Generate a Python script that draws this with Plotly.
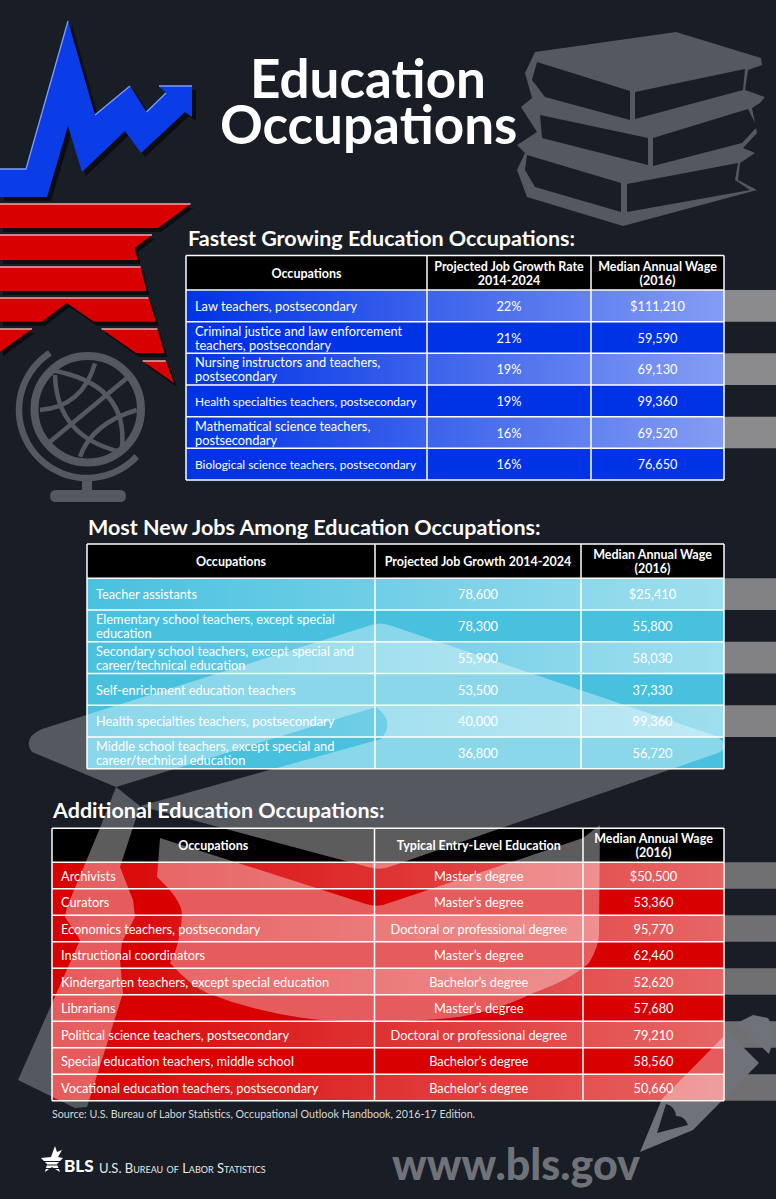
import base64, math
import plotly.graph_objects as go

W, H = 776, 1199
BG = "#191d25"
GRAY = "#54585f"
PENCIL = "#6f7379"
FONT = "Lato"

# ---------- data ----------
t1_head = ["Occupations", "Projected Job Growth Rate<br>2014-2024", "Median Annual Wage<br>(2016)"]
t1_occ = ["Law teachers, postsecondary",
          "Criminal justice and law enforcement<br>teachers, postsecondary",
          "Nursing instructors and teachers,<br>postsecondary",
          "Health specialties teachers, postsecondary",
          "Mathematical science teachers,<br>postsecondary",
          "Biological science teachers, postsecondary"]
t1_growth = ["22%", "21%", "19%", "19%", "16%", "16%"]
t1_wage = ["$111,210", "59,590", "69,130", "99,360", "69,520", "76,650"]

t2_head = ["Occupations", "Projected Job Growth 2014-2024", "Median Annual Wage<br>(2016)"]
t2_occ = ["Teacher assistants",
          "Elementary school teachers, except special<br>education",
          "Secondary school teachers, except special and<br>career/technical education",
          "Self-enrichment education teachers",
          "Health specialties teachers, postsecondary",
          "Middle school teachers, except special and<br>career/technical education"]
t2_growth = ["78,600", "78,300", "55,900", "53,500", "40,000", "36,800"]
t2_wage = ["$25,410", "55,800", "58,030", "37,330", "99,360", "56,720"]

t3_head = ["Occupations", "Typical Entry-Level Education", "Median Annual Wage<br>(2016)"]
t3_occ = ["Archivists", "Curators", "Economics teachers, postsecondary", "Instructional coordinators",
          "Kindergarten teachers, except special education", "Librarians",
          "Political science teachers, postsecondary", "Special education teachers, middle school",
          "Vocational education teachers, postsecondary"]
t3_edu = ["Master’s degree", "Master’s degree", "Doctoral or professional degree", "Master’s degree",
          "Bachelor’s degree", "Master’s degree", "Doctoral or professional degree",
          "Bachelor’s degree", "Bachelor’s degree"]
t3_wage = ["$50,500", "53,360", "95,770", "62,460", "52,620", "57,680", "79,210", "58,560", "50,660"]

# ---------- geometry of the page ----------
TABLES = [
    dict(x=[186, 427, 591, 724], top=255.5, head=34.5, row=31.67, fill="#0033e6", alpha=0.52,
         head_txt=t1_head, cols=[t1_occ, t1_growth, t1_wage], tight=(3, 5)),
    dict(x=[87, 375, 581, 724], top=544, head=34.3, row=31.75, fill="#48c1df", alpha=0.48,
         head_txt=t2_head, cols=[t2_occ, t2_growth, t2_wage], tight=()),
    dict(x=[52, 374.5, 583, 724], top=828.3, head=34, row=26.5, fill="#d80000", alpha=0.40,
         head_txt=t3_head, cols=[t3_occ, t3_edu, t3_wage], tight=()),
]


def poly(pts):
    return "M" + " L".join(f"{x} {y}" for x, y in pts) + " Z"


def arc(cx, cy, r, a0, a1, n=48):
    return [(cx + r * math.cos(math.radians(a0 + (a1 - a0) * i / n)),
             cy + r * math.sin(math.radians(a0 + (a1 - a0) * i / n))) for i in range(n + 1)]


def openpath(pts):
    return "M" + " L".join(f"{x:.1f} {y:.1f}" for x, y in pts)


# decorative outlines
CAP_TOP = ("M32 752 Q22 738 42 729 L368 626 Q379 621 392 626 L716 736 Q732 746 718 753 L392 866 "
           "Q380 871 368 867 L140 806 L381 739 Q396 722 376 707 L116 787 Z")
CAP_TASSEL = poly([(116, 787), (100, 828), (67, 907), (65, 917), (80, 940), (18, 1080), (75, 1108), (87, 1107),
                   (123, 993), (120, 960), (122, 942), (135, 917), (133, 900), (120, 867), (140, 806)])
CAP_BODY = ("M160 838 L157 877 Q182 900 182 915 Q180 945 170 963 Q190 985 207 993 Q260 1014 320 1020 "
            "Q400 1024 459 1017 Q500 1010 533 993 Q570 980 589 963 Q600 945 599 930 L600 825 L583 838 "
            "L389 903 Q378 908 366 904 Z")
PENCIL_CAP = poly([(737, 1023), (753, 1015), (768, 1018), (776, 1032), (769, 1054)])
PENCIL_BODY = ("M728 1032 L759 1063 L693 1130 L640 1152 L662 1099 Z "
               "M666 1104 L657 1133 L688 1125 Q685 1116 676 1116 Q675 1106 666 1104 Z")

shapes = []


def add(path, color, **kw):
    shapes.append(dict(type="path", path=path, fillcolor=color, line=dict(width=0), xref="x", yref="y",
                       layer="below", **kw))


def stroke(path, color, width, layer="below"):
    shapes.append(dict(type="path", path=path, line=dict(color=color, width=width), xref="x", yref="y", layer=layer))


# books
BOOK = [(535, 52), (676, 32), (761, 58), (762, 65), (748, 70), (745, 90), (765, 97), (760, 103), (752, 108),
        (757, 133), (743, 148), (755, 153), (740, 163), (738, 180), (757, 190), (623, 226), (527, 197),
        (517, 170), (525, 153), (517, 145), (537, 132), (521, 107), (532, 98), (525, 73)]
BOOK_HOLES = [[(537, 62), (630, 91), (630, 120), (545, 97), (532, 80)],
              [(635, 92), (745, 69), (743, 90), (635, 119)],
              [(540, 115), (648, 138), (648, 165), (542, 138)],
              [(653, 138), (748, 109), (757, 127), (742, 143), (653, 166)],
              [(527, 155), (621, 183), (621, 212), (535, 187), (525, 170)],
              [(627, 184), (738, 163), (735, 180), (750, 190), (627, 212)]]
add(poly(BOOK), GRAY)
for h in BOOK_HOLES:
    add(poly(h), BG)

# globe
z = lambda x, y: (x / 3, 340 + y / 3)
shapes.append(dict(type="circle", x0=34.5, x1=141, y0=356, y1=462.5, line=dict(color=GRAY, width=8),
                   fillcolor="rgba(0,0,0,0)", xref="x", yref="y", layer="below"))
GLOBE_ARCS = [[(165, 105), (170, 290), (360, 335)], [(120, 210), (247, 200), (285, 70)],
              [(150, 305), (265, 210), (380, 115)], [(150, 90), (390, 130), (365, 330)],
              [(240, 350), (276, 250), (410, 210)]]
for a, b, c in GLOBE_ARCS:
    a, b, c = z(*a), z(*b), z(*c)
    stroke(f"M{a[0]} {a[1]} Q{b[0]} {b[1]} {c[0]} {c[1]}", GRAY, 4.5)
stroke(openpath(arc(87, 410, 68, 237, 43)), GRAY, 6.5)
shapes.append(dict(type="rect", x0=82, x1=92, y0=478, y1=495, fillcolor=GRAY, line=dict(width=0),
                   xref="x", yref="y", layer="below"))
add("M56 490 L120 490 Q126 490 126 496 Q126 502 120 502 L56 502 Q50 502 50 496 Q50 490 56 490 Z", GRAY)

# blue arrow
ARROW = [(0, 169), (26, 169), (68, 21), (95, 115), (130, 86), (146.5, 112), (166, 93), (159, 86), (192, 86),
         (192, 117), (185, 112), (141, 153), (125, 131), (82, 172), (68, 126), (47, 197), (0, 197)]
add(poly([(x + 4, y + 4) for x, y in ARROW]), "#0b0d11")
add(poly(ARROW), "#0a3ce8")
for seg in ([(0, 169), (26, 169), (68, 21)], [(95, 115), (130, 86)], [(146.5, 112), (166, 93)], [(159, 86), (192, 86)]):
    stroke(openpath(seg), "#7f9cff", 1.3)

# red star stripes
STRIPES = [[(0, 204), (190.6, 204), (158, 228), (0, 228)],
           [(0, 235), (152, 235), (134.7, 248), (137.6, 260), (0, 260)],
           [(0, 267), (140.6, 267), (146.5, 291), (0, 291)],
           [(0, 298), (148.5, 298), (156, 321.7), (94, 321.7), (66.8, 303), (42, 321.7), (0, 321.7)],
           [(101.5, 329), (157.4, 329), (164.4, 353), (136, 353)],
           [(0, 329), (32, 329), (0, 352)],
           [(142.6, 361), (165.8, 361), (174, 383)]]
for s in STRIPES:
    add(poly([(x + 3, y + 4) for x, y in s]), "#0b0d11")
for s in STRIPES:
    add(poly(s), "#d80000")
    top = [p for p in s if p[1] == s[0][1]]
    stroke(openpath([top[0], top[1]]), "#f0a8a8", 1.5)

# right-hand bands outside the tables
for t in TABLES:
    n = len(t["cols"][0])
    for i in range(0, n, 2):
        y0 = t["top"] + t["head"] + i * t["row"]
        c = round(25 + 230 * t["alpha"] * 0.95)
        shapes.append(dict(type="rect", x0=t["x"][3], x1=W, y0=y0, y1=y0 + t["row"],
                           fillcolor=f"rgb({c},{c},{c + 3})", line=dict(width=0), xref="x", yref="y", layer="below"))

# cap + pencil
for p in (CAP_TOP, CAP_TASSEL, CAP_BODY):
    add(p, GRAY)
add(PENCIL_CAP, PENCIL)
add(PENCIL_BODY, PENCIL)

# the cap and pencil glow through the two lower tables
for ax in ("2", "3"):
    for p in (CAP_TOP, CAP_TASSEL, CAP_BODY, PENCIL_CAP, PENCIL_BODY):
        shapes.append(dict(type="path", path=p, fillcolor="rgba(255,255,255,0.36)", line=dict(width=0),
                           xref="x" + ax, yref="y" + ax, layer="above"))


# gradient bands over the table rows
def grad_uri(alpha):
    svg = ("<svg xmlns='http://www.w3.org/2000/svg' width='100' height='10' preserveAspectRatio='none'>"
           "<defs><linearGradient id='g'>"
           "<stop offset='0' stop-color='white' stop-opacity='0'/>"
           f"<stop offset='1' stop-color='white' stop-opacity='{alpha}'/>"
           "</linearGradient></defs><rect width='100' height='10' fill='url(#g)'/></svg>")
    return "data:image/svg+xml;base64," + base64.b64encode(svg.encode()).decode()


images = []
for t in TABLES:
    n = len(t["cols"][0])
    left, right = t["x"][0], t["x"][3]
    for i in range(0, n, 2):
        y0 = t["top"] + t["head"] + i * t["row"]
        images.append(dict(source=grad_uri(t["alpha"]), xref="paper", yref="paper", x=left / W, y=1 - y0 / H,
                           sizex=(right - left) / W, sizey=t["row"] / H, xanchor="left", yanchor="top",
                           sizing="stretch", layer="above"))

fig = go.Figure()

# axes used for the page coordinate system and as clip regions
for ax, (x0, x1, y0, y1) in {"": (0, W, 0, H),
                             "2": (TABLES[1]["x"][0], TABLES[1]["x"][3], TABLES[1]["top"] + TABLES[1]["head"],
                                   TABLES[1]["top"] + TABLES[1]["head"] + 6 * TABLES[1]["row"]),
                             "3": (TABLES[2]["x"][0], TABLES[2]["x"][3], TABLES[2]["top"],
                                   TABLES[2]["top"] + TABLES[2]["head"] + 9 * TABLES[2]["row"])}.items():
    fig.add_trace(go.Scatter(x=[x0], y=[y0], mode="none", hoverinfo="skip", showlegend=False,
                             xaxis="x" + ax, yaxis="y" + ax))
    fig.layout["xaxis" + ax] = dict(domain=[x0 / W, x1 / W], range=[x0, x1], visible=False, fixedrange=True,
                                    anchor="y" + ax)
    fig.layout["yaxis" + ax] = dict(domain=[1 - y1 / H, 1 - y0 / H], range=[y1, y0], visible=False, fixedrange=True,
                                    anchor="x" + ax)

LINE_GAP = 14
TEXT_DROP = 2
for t in TABLES:
    xs = t["x"]
    n = len(t["cols"][0])
    ys = [t["top"], t["top"] + t["head"]] + [t["top"] + t["head"] + (i + 1) * t["row"] for i in range(n)]
    # cell fills: header row 0, body rows 1
    fig.add_trace(go.Heatmap(x=xs, y=ys, z=[[0, 0, 0]] + [[1, 1, 1]] * n, zmin=0, zmax=1, showscale=False,
                             colorscale=[[0, "#000000"], [1, t["fill"]]], hoverinfo="skip"))
    # grid lines
    for v in xs:
        shapes.append(dict(type="line", x0=v, x1=v, y0=ys[0], y1=ys[-1], line=dict(color="white", width=1.5),
                           xref="x", yref="y", layer="above"))
    for v in ys:
        shapes.append(dict(type="line", x0=xs[0], x1=xs[-1], y0=v, y1=v, line=dict(color="white", width=1.5),
                           xref="x", yref="y", layer="above"))
    # text
    for r, row in enumerate([t["head_txt"]] + [list(c) for c in zip(*t["cols"])]):
        yc = (ys[r] + ys[r + 1]) / 2 + TEXT_DROP
        for c, s in enumerate(row):
            lines = s.split("<br>")
            left = c == 0 and r > 0
            px = xs[0] + 9 if left else (xs[c] + xs[c + 1]) / 2
            size = 12.5 if r == 0 else (11.9 if left and (r - 1) in t["tight"] else 12.8)
            fig.add_trace(go.Scatter(
                x=[px] * len(lines),
                y=[yc + (i - (len(lines) - 1) / 2) * LINE_GAP for i in range(len(lines))],
                text=lines, mode="text", textposition="middle right" if left else "middle center",
                textfont=dict(family=FONT, size=size, color="white", weight=700 if r == 0 else 400),
                hoverinfo="skip", showlegend=False, cliponaxis=False))

ann = []


def text(s, x, y, size, color="white", anchor="left", weight=400, variant="normal"):
    ann.append(dict(text=s, x=x / W, y=1 - y / H, xref="paper", yref="paper", xanchor=anchor, yanchor="middle",
                    showarrow=False, font=dict(family=FONT, size=size, color=color, weight=weight, variant=variant)))


text("Education", 368, 77, 53, anchor="center", weight=700)
text("Occupations", 368, 124, 53, anchor="center", weight=700)
text("Fastest Growing Education Occupations:", 186, 238, 21.5, weight=700)
text("Most New Jobs Among Education Occupations:", 86, 527, 21.5, weight=700)
text("Additional Education Occupations:", 50, 810, 21.5, weight=700)
text("Source: U.S. Bureau of Labor Statistics, Occupational Outlook Handbook, 2016-17 Edition.", 50, 1113, 10.7, color="#d8d8d8")
text("BLS", 62, 1165, 17, weight=900)
text("U.S. Bureau of Labor Statistics", 97, 1168, 13, variant="small-caps", color="#e8e8e8")
text("www.bls.gov", 516, 1163, 43, color=PENCIL, anchor="center", weight=900)

# BLS star with its small arrow and stripes
shapes.append(dict(type="path", path=poly([(41, 1158), (51, 1157), (55, 1146), (57, 1152), (62, 1150), (58, 1157), (63, 1158),
                                           (57, 1164), (60, 1172), (52, 1167), (45, 1172), (47, 1164)]),
                   fillcolor="white", line=dict(width=0), xref="x", yref="y", layer="above"))
for yy in (1161.5, 1165, 1168.5):
    shapes.append(dict(type="line", x0=42, x1=64, y0=yy, y1=yy, line=dict(color=BG, width=1), xref="x", yref="y",
                       layer="above"))

fig.update_layout(width=W, height=H, margin=dict(l=0, r=0, t=0, b=0), paper_bgcolor=BG, plot_bgcolor="rgba(0,0,0,0)",
                  showlegend=False, shapes=shapes, images=images, annotations=ann)
fig.write_html("out.html", config={"displayModeBar": False},
               post_script=f"document.body.style.margin='0';document.body.style.background='{BG}';")
